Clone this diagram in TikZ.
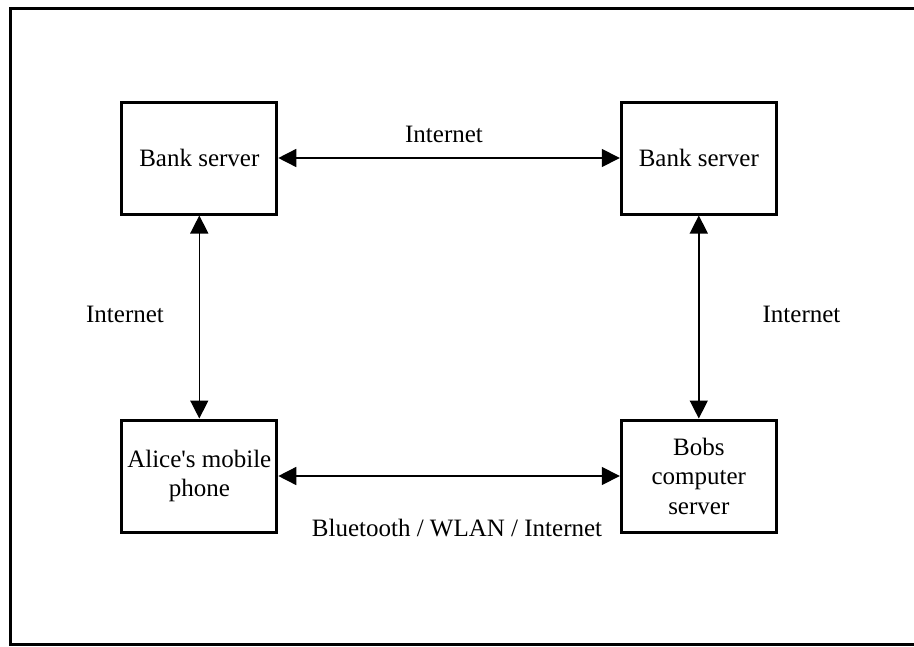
\documentclass[tikz,border=0pt]{standalone}
\usepackage{fontspec}
\setmainfont{Liberation Serif}
\usetikzlibrary{arrows.meta}
\begin{document}
\begin{tikzpicture}[x=1pt,y=-1pt,
  box/.style={draw, line width=3pt, minimum width=155pt, minimum height=112pt,
    align=center, inner sep=2pt, font=\fontsize{25}{29.5}\selectfont},
  lbl/.style={inner sep=0pt, font=\fontsize{25}{29.5}\selectfont},
  link/.style={line width=1.5pt, {Triangle[length=18pt,width=18pt]}-{Triangle[length=18pt,width=18pt]}}]
  \useasboundingbox (0,0) rectangle (914,646);
  \clip (0,0) rectangle (914,646);
  % outer frame (runs off the right edge)
  \draw[line width=3pt] (930,8.5) -- (10.5,8.5) -- (10.5,644.7) -- (930,644.7);

  \node[box] (bankA) at (199.3,158) {Bank server};
  \node[box] (bankB) at (698.8,158) {Bank server};
  \node[box] (alice) at (199.3,476) {Alice\textquotesingle s mobile\\phone};
  \node[box] (bob)   at (698.8,476) {Bobs\\computer\\server};

  \draw[link] (bankA) -- (bankB);
  \draw[link] (bankA) -- (alice);
  \draw[link] (bankB) -- (bob);
  \draw[link] (alice) -- (bob);

  \node[lbl] (netTop)   at (444,134) {Internet};
  \node[lbl] (netLeft)  at (125,314) {Internet};
  \node[lbl] (netRight) at (801.5,314) {Internet};
  \node[lbl] (netBottom) at (457,528) {Bluetooth / WLAN / Internet};
\end{tikzpicture}
\end{document}
